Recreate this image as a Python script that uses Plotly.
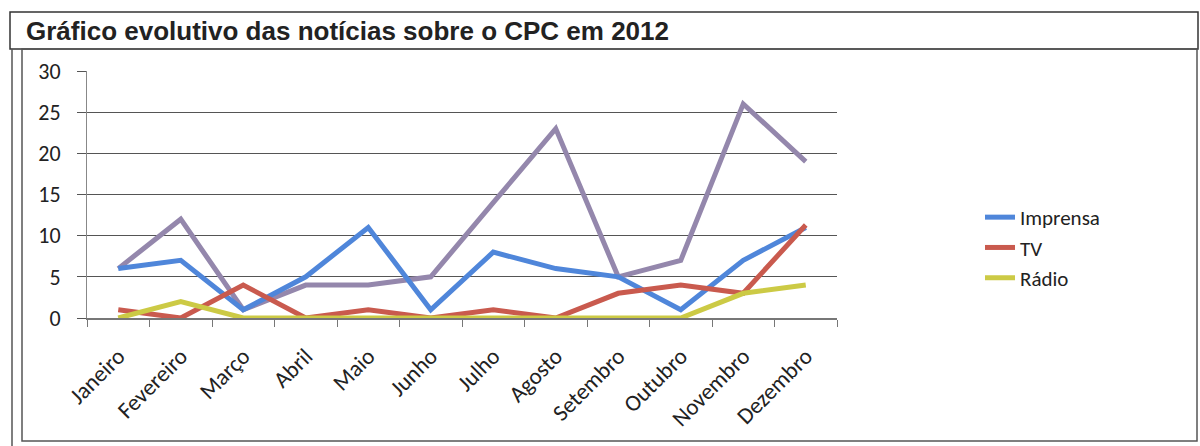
import plotly.graph_objects as go

meses = ["Janeiro", "Fevereiro", "Março", "Abril", "Maio", "Junho", "Julho",
         "Agosto", "Setembro", "Outubro", "Novembro", "Dezembro"]
imprensa = [6, 7, 1, 5, 11, 1, 8, 6, 5, 1, 7, 11]
tv = [1, 0, 4, 0, 1, 0, 1, 0, 3, 4, 3, 11.3]
radio = [0, 2, 0, 0, 0, 0, 0, 0, 0, 0, 3, 4]
total = [6, 12, 1, 4, 4, 5, 14, 23, 5, 7, 26, 19]

W, H = 1200, 446
L, R, T, B = 87, 837, 71, 318


def px(x):
    return (x - L) / (R - L)


def py(y):
    return (B - y) / (B - T)


fig = go.Figure()
fig.add_trace(go.Scatter(x=meses, y=total, mode="lines", name="Total",
                         showlegend=False, line=dict(color="#9487AC", width=5)))
fig.add_trace(go.Scatter(x=meses, y=imprensa, mode="lines", name="Imprensa",
                         line=dict(color="#4F86DA", width=5)))
fig.add_trace(go.Scatter(x=meses, y=tv, mode="lines", name="TV",
                         line=dict(color="#C95A4E", width=5)))
fig.add_trace(go.Scatter(x=meses, y=radio, mode="lines", name="Rádio",
                         line=dict(color="#CCCA45", width=5)))

shapes = [
    dict(type="rect", xref="paper", yref="paper", x0=px(10), x1=px(1198), y0=py(12), y1=py(49),
         line=dict(color="#333", width=1.5)),
    dict(type="rect", xref="paper", yref="paper", x0=px(22), x1=px(1197), y0=py(49), y1=py(441),
         line=dict(color="#555", width=1.5)),
    dict(type="line", xref="paper", yref="paper", x0=px(12), x1=px(12), y0=py(49), y1=py(446),
         line=dict(color="#555", width=1.5)),
]

fig.update_layout(
    width=W, height=H,
    margin=dict(l=L, r=W - R, t=T, b=H - B, pad=0, autoexpand=False),
    paper_bgcolor="white", plot_bgcolor="white",
    font=dict(family="Carlito, Lato, sans-serif", color="#222"),
    shapes=shapes,
    showlegend=True,
    legend=dict(x=px(980), y=py(197), xanchor="left", yanchor="top",
                font=dict(size=21, family="Carlito, Lato, sans-serif", color="#222"),
                bgcolor="rgba(0,0,0,0)", tracegroupgap=0),
    annotations=[dict(text="<b>Gráfico evolutivo das notícias sobre o CPC em 2012</b>",
                      xref="paper", yref="paper", x=px(24), y=py(31),
                      xanchor="left", yanchor="middle", showarrow=False,
                      font=dict(size=26, family="Liberation Sans Narrow, Arial Narrow, Liberation Sans, Arial",
                                color="#222"))],
)

fig.update_xaxes(
    type="category", tickangle=-45, tickson="boundaries", ticks="outside", ticklen=7,
    tickcolor="#777", showline=True, linecolor="#777", linewidth=1.5,
    showgrid=False, tickfont=dict(size=23), range=[-0.5, 11.5], zeroline=False,
    ticklabelstandoff=14, automargin=False,
)
fig.update_yaxes(
    range=[0, 30], dtick=5, showgrid=True, gridcolor="#555", gridwidth=1.2,
    ticks="outside", ticklen=9, tickcolor="#555", showline=True, linecolor="#888",
    linewidth=1, zeroline=False, tickfont=dict(size=22), ticklabelstandoff=12,
    automargin=False,
)

fig.write_html("out.html")
